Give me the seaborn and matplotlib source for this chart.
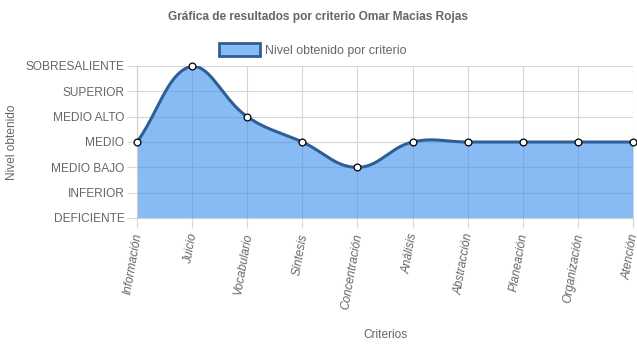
import numpy as np
import pandas as pd
import matplotlib
matplotlib.use("Agg")
import matplotlib.pyplot as plt
from matplotlib.patches import Patch
import seaborn as sns

categories = ["Información", "Juicio", "Vocabulario", "Síntesis", "Concentración",
              "Análisis", "Abstracción", "Planeación", "Organización", "Atención"]
values = [3, 6, 4, 3, 2, 3, 3, 3, 3, 3]
levels = ["DEFICIENTE", "INFERIOR", "MEDIO BAJO", "MEDIO", "MEDIO ALTO", "SUPERIOR", "SOBRESALIENTE"]
title = "Gráfica de resultados por criterio Omar Macias Rojas"
series_name = "Nivel obtenido por criterio"

sns.set_theme(style="white")
plt.rcParams["font.family"] = ["Liberation Sans", "DejaVu Sans"]

W, H = 637, 348
fig = plt.figure(figsize=(W / 100, H / 100), dpi=100)
L, R, T, B = 137, 633, 66, 218
ax = fig.add_axes([L / W, 1 - B / H, (R - L) / W, (B - T) / H])

n = len(values)
x = np.arange(n, dtype=float)
y = np.array(values, dtype=float)
ax.set_xlim(0, n - 1)
ax.set_ylim(0, len(levels) - 1)

# Chart.js style spline (tension 0.4), computed in pixel space
sx = (R - L) / (n - 1)
sy = (B - T) / (len(levels) - 1)
px, py = x * sx, y * sy
t = 0.4
cp_prev = np.zeros((n, 2))
cp_next = np.zeros((n, 2))
for i in range(n):
    cur = np.array([px[i], py[i]])
    prev = np.array([px[i - 1], py[i - 1]]) if i > 0 else cur
    nxt = np.array([px[i + 1], py[i + 1]]) if i < n - 1 else cur
    d01 = np.hypot(*(cur - prev))
    d12 = np.hypot(*(nxt - cur))
    s01 = d01 / (d01 + d12) if d01 + d12 > 0 else 0
    s12 = d12 / (d01 + d12) if d01 + d12 > 0 else 0
    fa, fb = t * s01, t * s12
    cp_prev[i] = cur - fa * (nxt - prev)
    cp_next[i] = cur + fb * (nxt - prev)
cp_prev[:, 1] = np.clip(cp_prev[:, 1], 0, (len(levels) - 1) * sy)
cp_next[:, 1] = np.clip(cp_next[:, 1], 0, (len(levels) - 1) * sy)

cx, cy = [], []
tt = np.linspace(0, 1, 60)
for i in range(n - 1):
    p0 = np.array([px[i], py[i]]); p1 = cp_next[i]; p2 = cp_prev[i + 1]; p3 = np.array([px[i + 1], py[i + 1]])
    pts = ((1 - tt)[:, None] ** 3 * p0 + 3 * ((1 - tt) ** 2 * tt)[:, None] * p1
           + 3 * ((1 - tt) * tt ** 2)[:, None] * p2 + (tt ** 3)[:, None] * p3)
    cx.extend(pts[:, 0] / sx); cy.extend(pts[:, 1] / sy)
curve = pd.DataFrame({"x": cx, "y": cy})

fill_rgba = (57 / 255, 142 / 255, 238 / 255, 0.6)
line_c = "#2d5f96"
ax.fill_between(curve["x"], 0, curve["y"], color=fill_rgba, lw=0, zorder=2)
sns.lineplot(data=curve, x="x", y="y", sort=False, color=line_c, lw=2.2, ax=ax, zorder=3)
pts_df = pd.DataFrame({"x": x, "y": y})
sns.scatterplot(data=pts_df, x="x", y="y", s=24, color="white", edgecolor="black",
                linewidth=0.9, ax=ax, zorder=4, clip_on=False)

ax.set_xticks(x)
ax.set_xticklabels(categories, rotation=80, rotation_mode="anchor", ha="right",
                   va="center_baseline", fontstyle="italic", fontsize=8.6, color="#666666")
ax.set_yticks(range(len(levels)))
ax.set_yticklabels(levels, fontsize=8.6, color="#666666")
ax.tick_params(axis="both", length=7, width=0.8, color="#d9d9d9", pad=2, bottom=True, left=True)
ax.tick_params(axis="x", pad=4)
ax.grid(True, color="#d6d6d6", lw=0.8)
ax.set_axisbelow(True)
for sp in ["top", "right"]:
    ax.spines[sp].set_visible(False)
for sp in ["left", "bottom"]:
    ax.spines[sp].set_color("#cfcfcf")
    ax.spines[sp].set_linewidth(0.8)
ax.set_xlabel("")
ax.set_ylabel("")

fig.text(12 / W, 1 - 142 / H, "Nivel obtenido", rotation=90, ha="center", va="center",
         fontsize=8.6, color="#666666")
fig.text(385 / W, 1 - 335 / H, "Criterios", ha="center", va="center", fontsize=8.6, color="#666666")
fig.text(318 / W, 1 - 17 / H, title, ha="center", va="center", fontsize=8.6,
         fontweight="bold", color="#666666")

handle = Patch(facecolor=fill_rgba, edgecolor=line_c, linewidth=2)
fig.legend([handle], [series_name], loc="center", bbox_to_anchor=(313 / W, 1 - 50 / H),
           frameon=False, fontsize=8.9, handlelength=3.3, handleheight=1.2, handletextpad=0.4,
           labelcolor="#666666")

fig.savefig("out.png", dpi=100)
